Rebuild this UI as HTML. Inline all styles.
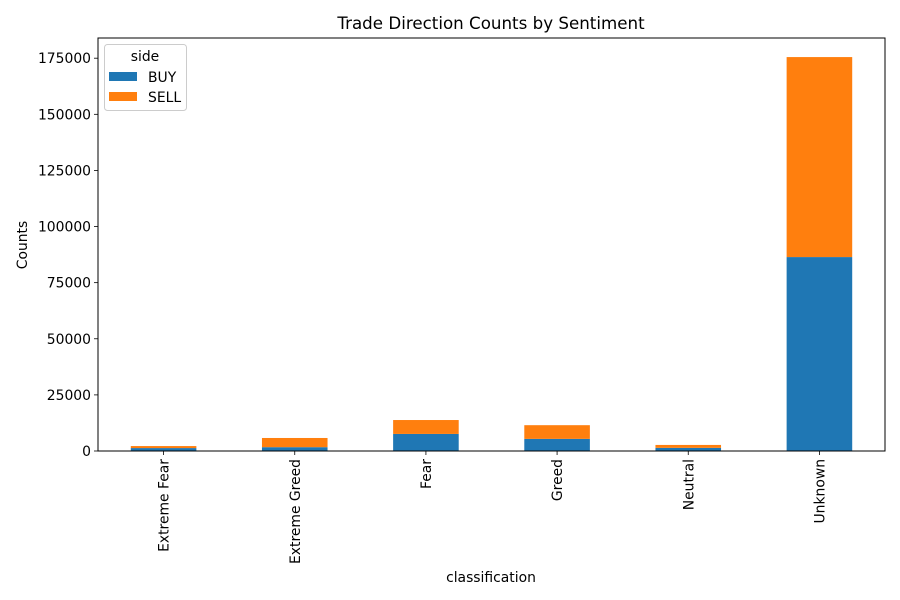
<!DOCTYPE html>
<html><head><meta charset="utf-8"><style>
html,body{margin:0;padding:0;background:#fff;}
svg{display:block;font-family:"DejaVu Sans","Liberation Sans",sans-serif;}
</style></head><body>
<svg id="chart" width="900" height="600" xmlns="http://www.w3.org/2000/svg"></svg>
<script>
const categories = ["Extreme Fear","Extreme Greed","Fear","Greed","Neutral","Unknown"];
const buyValues = [1300, 1700, 7600, 5400, 1400, 86400];
const sellValues = [900, 4100, 6200, 6100, 1300, 89100];
const yTicks = [0,25000,50000,75000,100000,125000,150000,175000];
const yMax = 184000;

const NS="http://www.w3.org/2000/svg";
const svg=document.getElementById('chart');
const L=98,R=885,T=38,B=451;
const bw=(R-L)/categories.length;
function x(i){return L+bw*(i+0.5);}
function y(v){return B-(v/yMax)*(B-T);}
function mk(tag,attrs,parent){const e=document.createElementNS(NS,tag);for(const k in attrs)e.setAttribute(k,attrs[k]);(parent||svg).appendChild(e);return e;}

const bars=mk('g',{});


categories.forEach((c,i)=>{
  const w=bw*0.5, bx=x(i)-w/2;
  const b=mk('rect',{x:bx,y:y(buyValues[i]),width:w,height:B-y(buyValues[i]),fill:'#1f77b4'},bars);
  
  
  const tot=buyValues[i]+sellValues[i];
  const s=mk('rect',{x:bx,y:y(tot),width:w,height:y(buyValues[i])-y(tot),fill:'#ff7f0e'},bars);
  
  
  const tk=mk('line',{x1:x(i),x2:x(i),y1:B,y2:B+4,stroke:'#000','stroke-width':0.8});
  
  
  const t=mk('text',{x:0,y:0,'font-size':13.9,'text-anchor':'end',transform:`translate(${x(i)+5},${B+8}) rotate(-90)`});
  t.textContent=c;
  
  
});
yTicks.forEach(v=>{
  const tk=mk('line',{x1:L-4,x2:L,y1:y(v),y2:y(v),stroke:'#000','stroke-width':0.8});
  
  
  const t=mk('text',{x:L-7,y:y(v)+5,'font-size':13.9,'text-anchor':'end'});
  t.textContent=v;
  
  
});
const frame=mk('rect',{x:L,y:T,width:R-L,height:B-T,fill:'none',stroke:'#000','stroke-width':1});


</script>
<div style="position:absolute;left:0;top:0;width:900px;height:600px;pointer-events:none">
<svg width="900" height="600" xmlns="http://www.w3.org/2000/svg" style="font-family:'DejaVu Sans','Liberation Sans',sans-serif">
<text x="491" y="29" font-size="16.7" text-anchor="middle">Trade Direction Counts by Sentiment</text>
<text x="491" y="582" font-size="13.9" text-anchor="middle">classification</text>
<text transform="translate(27,245) rotate(-90)" font-size="13.9" text-anchor="middle">Counts</text>
<g>
<rect x="104.5" y="44.5" width="82" height="66" rx="3" fill="#fff" stroke="#ccc"/>
<text x="145" y="61" font-size="13.9" text-anchor="middle">side</text>
<rect x="109" y="72" width="28" height="9" fill="#1f77b4"/>
<text x="148" y="82" font-size="13.9">BUY</text>
<rect x="109" y="92" width="28" height="9" fill="#ff7f0e"/>
<text x="148" y="102" font-size="13.9">SELL</text>
</g>
</svg></div>
</body></html>
